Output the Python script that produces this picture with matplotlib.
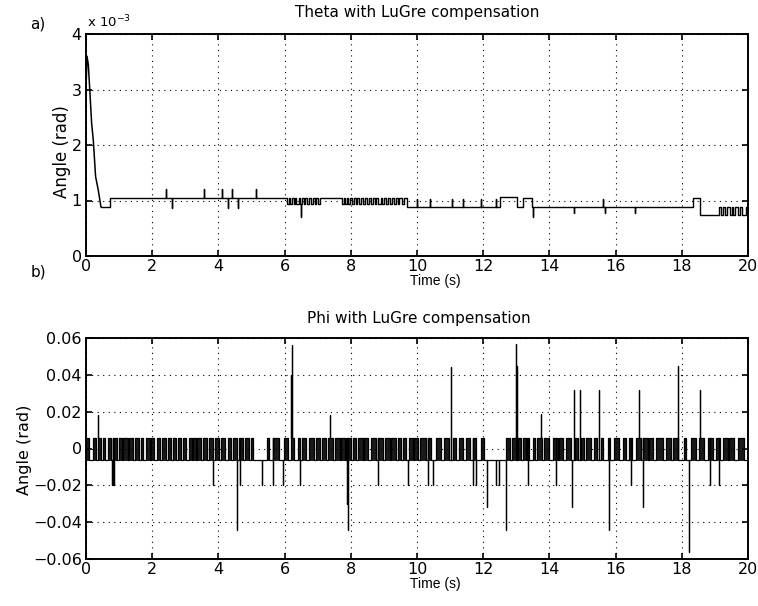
import matplotlib
matplotlib.use("Agg")
import matplotlib.pyplot as plt
import numpy as np
from matplotlib.ticker import FixedLocator, FuncFormatter

plt.rcParams["font.family"] = ["DejaVu Sans"]

T_END = 20.0

# ---- Theta (values in units of 1e-3 rad) ----
theta_decay_t = [0.0, 0.03, 0.07, 0.12, 0.17, 0.22, 0.29, 0.37, 0.45]
theta_decay_v = [3.0, 3.6, 3.45, 2.93, 2.39, 2.09, 1.43, 1.19, 0.89]

theta_level_t = [0.45, 0.72, 9.69, 12.51, 13.01, 13.21, 13.46, 18.35, 18.55, 19.95]
theta_level_v = [0.89, 1.04, 0.89, 1.07, 0.89, 1.05, 0.89, 1.04, 0.73, 0.89]

# short dips / bumps (start, end, value)
theta_ov_on = [6.08, 6.16, 6.27, 6.35, 6.48, 6.58, 6.68, 6.80, 6.92, 7.02,
               7.74, 7.82, 7.93, 8.03, 8.15, 8.25, 8.38, 8.50, 8.60, 8.72,
               8.83, 8.95, 9.06, 9.18, 9.30, 9.42, 9.54,
               19.12, 19.25, 19.38, 19.52, 19.62, 19.76]
theta_ov_off = [6.12, 6.22, 6.30, 6.42, 6.53, 6.62, 6.74, 6.85, 6.96, 7.08,
                7.78, 7.88, 7.98, 8.10, 8.19, 8.32, 8.44, 8.55, 8.67, 8.77,
                8.90, 9.00, 9.12, 9.23, 9.36, 9.47, 9.60,
                19.18, 19.30, 19.45, 19.56, 19.70, 19.82]
theta_ov_v = [0.93] * 27 + [0.89] * 6

theta_spike_t = [2.41, 3.56, 4.10, 4.40, 5.14, 2.59, 4.30, 4.60, 6.51, 13.49,
                 14.75, 15.68, 16.58, 9.99, 10.39, 11.05, 11.40, 11.93, 12.40, 15.63]
theta_spike_v = [1.20, 1.20, 1.20, 1.20, 1.20, 0.86, 0.86, 0.86, 0.71, 0.71,
                 0.77, 0.77, 0.77, 1.03, 1.03, 1.03, 1.03, 1.03, 1.03, 1.03]

# ---- Phi (rad) ----
phi_low = -0.0065
phi_high = 0.0058
phi_hi_on = [0.00, 0.22, 0.35, 0.50, 0.66, 0.81, 1.01, 1.13, 1.31, 1.49, 1.66, 1.81, 1.96,
             2.13, 2.30, 2.47, 2.64, 2.77, 2.94, 3.12, 3.24,
             3.36, 3.54, 3.72, 3.90, 4.08, 4.28, 4.45, 4.61, 4.81, 4.98, 5.47, 5.66,
             5.99, 6.19, 6.39, 6.54,
             6.75, 6.95, 7.13, 7.30, 7.51, 7.71, 7.86, 8.06, 8.21, 8.41, 8.61, 8.82,
             9.02, 9.22, 9.42, 9.57, 9.77, 9.92,
             10.08, 10.32, 10.57, 10.83, 11.08, 11.28, 11.48, 11.68, 11.93, 12.70,
             12.88, 13.05, 13.20,
             13.32, 13.49, 13.64, 13.84, 14.10, 14.30, 14.50, 14.76, 14.95, 15.10,
             15.35, 15.55, 15.76, 15.96, 16.21, 16.41,
             16.62, 16.82, 17.02, 17.22, 17.53, 17.73, 18.08, 18.28, 18.53, 18.79,
             19.04, 19.24, 19.44, 19.69]
phi_hi_off = [0.10, 0.30, 0.45, 0.58, 0.75, 0.95, 1.09, 1.26, 1.41, 1.61, 1.73, 1.93, 2.06,
              2.24, 2.42, 2.57, 2.72, 2.87, 3.02, 3.20, 3.32,
              3.47, 3.67, 3.84, 4.02, 4.21, 4.38, 4.55, 4.73, 4.93, 5.05, 5.52, 5.82,
              6.09, 6.29, 6.46, 6.64,
              6.90, 7.07, 7.25, 7.46, 7.66, 7.81, 8.01, 8.16, 8.36, 8.51, 8.76, 8.97,
              9.17, 9.37, 9.52, 9.67, 9.87, 10.03,
              10.27, 10.42, 10.72, 10.98, 11.18, 11.38, 11.60, 11.78, 12.03, 12.80,
              13.00, 13.15, 13.28,
              13.39, 13.57, 13.79, 13.99, 14.25, 14.40, 14.65, 14.86, 15.05, 15.25,
              15.45, 15.61, 15.84, 16.11, 16.31, 16.51,
              16.77, 16.97, 17.12, 17.43, 17.68, 17.88, 18.13, 18.43, 18.68, 18.94,
              19.14, 19.39, 19.59, 19.89]

phi_spike_t = [0.37, 6.21, 6.18, 7.37, 11.02, 12.99, 13.02, 13.75, 14.74, 14.92, 15.51,
               16.70, 17.89, 18.55,
               0.80, 0.83, 0.86, 3.85, 4.55, 4.65, 5.31, 5.66, 5.96, 6.47, 7.93, 7.90,
               8.83, 9.72, 10.34, 10.49, 11.70, 11.78, 12.12, 12.39, 12.49, 12.69,
               13.36, 14.19, 14.67, 15.79, 16.47, 16.82, 18.23, 18.85, 19.13]
phi_spike_v = [0.018, 0.056, 0.040, 0.018, 0.044, 0.057, 0.045, 0.019, 0.032, 0.032, 0.032,
               0.032, 0.045, 0.032,
               -0.020, -0.020, -0.020, -0.020, -0.044, -0.020, -0.020, -0.020, -0.020,
               -0.020, -0.044, -0.030, -0.020, -0.020, -0.020, -0.020, -0.020, -0.020,
               -0.032, -0.020, -0.020, -0.044, -0.020, -0.020, -0.032, -0.044, -0.020,
               -0.032, -0.056, -0.020, -0.020]


def build_path(level_t, level_v, ov_on, ov_off, ov_v, spike_t, spike_v, t_end):
    """Piecewise-constant path with overrides and vertical spikes."""
    level_t = np.asarray(level_t, float)
    level_v = np.asarray(level_v, float)
    cuts = sorted(set(list(level_t) + list(ov_on) + list(ov_off) + [t_end]))
    spikes = sorted(zip(spike_t, spike_v))
    ts, vs = [], []
    for a, b in zip(cuts[:-1], cuts[1:]):
        idx = np.searchsorted(level_t, a, side="right") - 1
        val = level_v[max(idx, 0)]
        for on, off, v in zip(ov_on, ov_off, ov_v):
            if on <= a < off:
                val = v
        ts.append(a)
        vs.append(val)
        for st, sv in spikes:
            if a <= st < b:
                ts += [st, st, st]
                vs += [val, sv, val]
        ts.append(b)
        vs.append(val)
    return np.array(ts), np.array(vs)


theta_t, theta_v = build_path(theta_level_t, theta_level_v, theta_ov_on, theta_ov_off,
                              theta_ov_v, theta_spike_t, theta_spike_v, T_END)
phi_t, phi_v = build_path([0.0], [phi_low], phi_hi_on, phi_hi_off,
                          [phi_high] * len(phi_hi_on), phi_spike_t, phi_spike_v, T_END)

W, H = 758, 606
fig = plt.figure(figsize=(W / 100, H / 100), dpi=100)
ax1 = fig.add_axes([86 / W, 1 - 256 / H, 662 / W, 222 / H])
ax2 = fig.add_axes([86 / W, 1 - 559 / H, 662 / W, 221 / H])

ax1.plot(theta_decay_t, theta_decay_v, color="k", lw=1.1)
ax1.plot(theta_t, theta_v, color="k", lw=1.0)
ax1.set_xlim(0, 20)
ax1.set_ylim(0, 4)
ax1.yaxis.set_major_locator(FixedLocator([0, 1, 2, 3, 4]))

ax2.fill_between(phi_t, phi_low, np.clip(phi_v, phi_low, phi_high), color="0.1", lw=0)
ax2.plot(phi_t, phi_v, color="k", lw=0.9)
ax2.set_xlim(0, 20)
ax2.set_ylim(-0.06, 0.06)
ax2.yaxis.set_major_locator(FixedLocator([-0.06, -0.04, -0.02, 0, 0.02, 0.04, 0.06]))
ax2.yaxis.set_major_formatter(
    FuncFormatter(lambda v, p: "0" if abs(v) < 1e-9 else f"{v:.2f}".replace("-", "\u2212")))

for ax in (ax1, ax2):
    ax.xaxis.set_major_locator(FixedLocator(range(0, 21, 2)))
    ax.grid(True, color="k", linestyle=(0, (1, 4)), lw=0.8)
    ax.tick_params(direction="in", top=True, right=True, length=4, width=1.2,
                   labelsize=11.5, pad=3)
    ax.tick_params(axis="x", pad=2)
    for s in ax.spines.values():
        s.set_linewidth(1.4)

fig.text(417 / W, 1 - 12 / H, "Theta with LuGre compensation", ha="center", va="center",
         fontsize=11)
fig.text(419 / W, 1 - 318 / H, "Phi with LuGre compensation", ha="center", va="center",
         fontsize=11)
fig.text(435 / W, 1 - 281 / H, "Time (s)", ha="center", va="center", fontsize=10,
         family="Liberation Sans")
fig.text(435 / W, 1 - 584 / H, "Time (s)", ha="center", va="center", fontsize=10,
         family="Liberation Sans")
fig.text(62 / W, 1 - 152 / H, "Angle (rad)", ha="center", va="center", rotation=90,
         fontsize=12)
fig.text(25 / W, 1 - 450 / H, "Angle (rad)", ha="center", va="center", rotation=90,
         fontsize=11.5)
fig.text(38 / W, 1 - 24 / H, "a)", ha="center", va="center", fontsize=11)
fig.text(38 / W, 1 - 272 / H, "b)", ha="center", va="center", fontsize=11)
fig.text(87 / W, 1 - 22 / H, r"x 10$^{-3}$", ha="left", va="center", fontsize=9.5)

fig.savefig("out.png", dpi=100)
